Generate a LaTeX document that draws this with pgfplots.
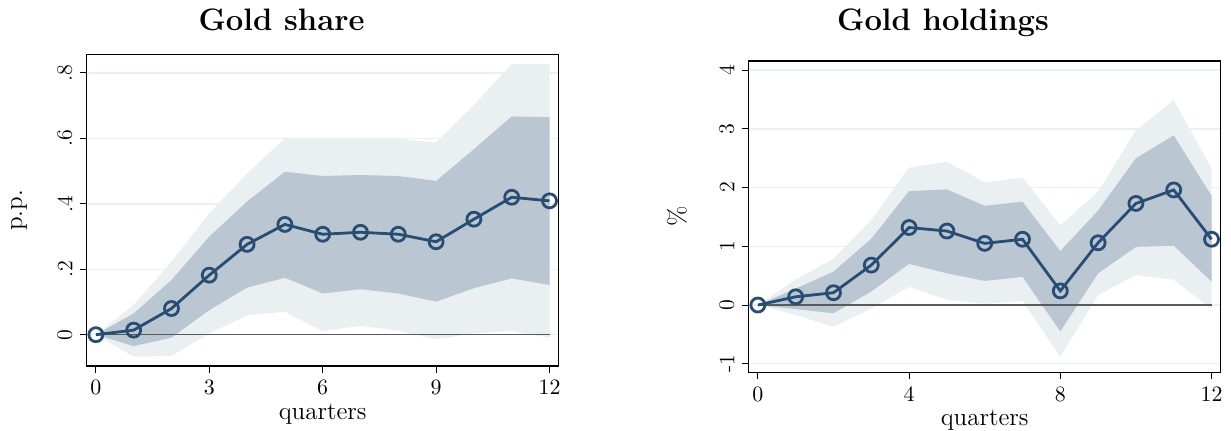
\documentclass[border=0pt]{standalone}
\usepackage{pgfplots}
\pgfplotsset{compat=1.18}

\definecolor{navy}{RGB}{40,76,114}
\definecolor{bandA}{RGB}{186,199,211}
\definecolor{bandB}{RGB}{234,239,242}
\definecolor{gridc}{RGB}{232,240,242}
\definecolor{zeroc}{RGB}{90,90,90}

\pgfplotsset{irf/.style={
  scale only axis, width=236pt, height=155.7pt,
  axis line style={black, line width=0.6pt},
  tick align=outside, xtick pos=left, ytick pos=left,
  major tick length=3.5pt,
  tick style={black, line width=0.5pt},
  ymajorgrids, grid style={gridc, line width=0.7pt},
  xmin=-0.243, xmax=12.243,
  ticklabel style={font=\fontsize{11}{12}\selectfont},
  xticklabel style={inner xsep=0pt, inner ysep=3.6pt, anchor=north},
  yticklabel style={inner xsep=0pt, inner ysep=3.5pt, rotate=90, anchor=south},
  label style={font=\fontsize{12.5}{14}\selectfont},
  xlabel style={at={(axis description cs:0.5,0)}, anchor=base, yshift=-26.5pt},
},
bandlight/.style={fill=bandB, draw=none},
banddark/.style={fill=bandA, draw=none},
est/.style={navy, line width=1.4pt, mark=o, mark size=3.5pt, mark options={line width=1.4pt, solid}},
}

\begin{document}
\begin{tikzpicture}
\path[use as bounding box] (0,0) rectangle (615.5pt,215pt);

\begin{axis}[irf, at={(43.35pt,32pt)}, anchor=south west,
  ymin=-0.0957, ymax=0.856,
  xtick={0,3,6,9,12},
  ytick={0,0.2,0.4,0.6,0.8}, yticklabels={0,.2,.4,.6,.8},
  xlabel={quarters}, ylabel={p.p.},
  ylabel style={at={(axis description cs:-0.1434,0.5)}, anchor=center},
]
% 90% band: upper forward, lower backward
\addplot[bandlight] coordinates {
 (0,0) (1,0.091) (2,0.223) (3,0.371) (4,0.493) (5,0.600) (6,0.600) (7,0.601) (8,0.598) (9,0.588) (10,0.702) (11,0.827) (12,0.828)
 (12,-0.009) (11,0.011) (10,0.004) (9,-0.014) (8,0.012) (7,0.027) (6,0.011) (5,0.070) (4,0.059) (3,0.004) (2,-0.065) (1,-0.067) (0,0)} --cycle;
% 68% band
\addplot[banddark] coordinates {
 (0,0) (1,0.065) (2,0.167) (3,0.300) (4,0.407) (5,0.498) (6,0.485) (7,0.488) (8,0.485) (9,0.470) (10,0.567) (11,0.667) (12,0.665)
 (12,0.152) (11,0.172) (10,0.142) (9,0.101) (8,0.126) (7,0.139) (6,0.126) (5,0.174) (4,0.144) (3,0.075) (2,-0.009) (1,-0.035) (0,0)} --cycle;
\addplot[zeroc, line width=0.6pt] coordinates {(0,0) (12,0)};
\addplot[est] coordinates {
 (0,0) (1,0.014) (2,0.080) (3,0.182) (4,0.276) (5,0.337) (6,0.307) (7,0.313) (8,0.307) (9,0.284) (10,0.353) (11,0.420) (12,0.409)};
\end{axis}

\begin{axis}[irf, at={(374.35pt,28.85pt)}, anchor=south west,
  ymin=-1.146, ymax=4.158,
  xtick={0,4,8,12},
  ytick={-1,0,1,2,3,4}, yticklabels={-1,0,1,2,3,4},
  xlabel={quarters}, ylabel={\%},
  ylabel style={at={(axis description cs:-0.1519,0.5)}, anchor=center},
]
\addplot[bandlight] coordinates {
 (0,0) (1,0.43) (2,0.79) (3,1.45) (4,2.34) (5,2.44) (6,2.09) (7,2.17) (8,1.36) (9,1.93) (10,2.98) (11,3.49) (12,2.33)
 (12,-0.07) (11,0.43) (10,0.51) (9,0.17) (8,-0.88) (7,0.07) (6,0.02) (5,0.09) (4,0.31) (3,-0.06) (2,-0.37) (1,-0.17) (0,0)} --cycle;
\addplot[banddark] coordinates {
 (0,0) (1,0.28) (2,0.57) (3,1.13) (4,1.94) (5,1.97) (6,1.69) (7,1.76) (8,0.92) (9,1.61) (10,2.50) (11,2.89) (12,1.86)
 (12,0.40) (11,1.01) (10,0.99) (9,0.54) (8,-0.45) (7,0.48) (6,0.41) (5,0.54) (4,0.70) (3,0.23) (2,-0.14) (1,-0.07) (0,0)} --cycle;
\addplot[zeroc, line width=0.6pt] coordinates {(0,0) (12,0)};
\addplot[est] coordinates {
 (0,0) (1,0.14) (2,0.21) (3,0.68) (4,1.32) (5,1.26) (6,1.05) (7,1.12) (8,0.24) (9,1.06) (10,1.73) (11,1.96) (12,1.12)};
\end{axis}

\node[anchor=base, font=\fontsize{15.5}{18}\selectfont\bfseries] at (140.75pt,200pt) {Gold share};
\node[anchor=base, font=\fontsize{15.5}{18}\selectfont\bfseries] at (471.5pt,199.6pt) {Gold holdings};
\end{tikzpicture}
\end{document}
